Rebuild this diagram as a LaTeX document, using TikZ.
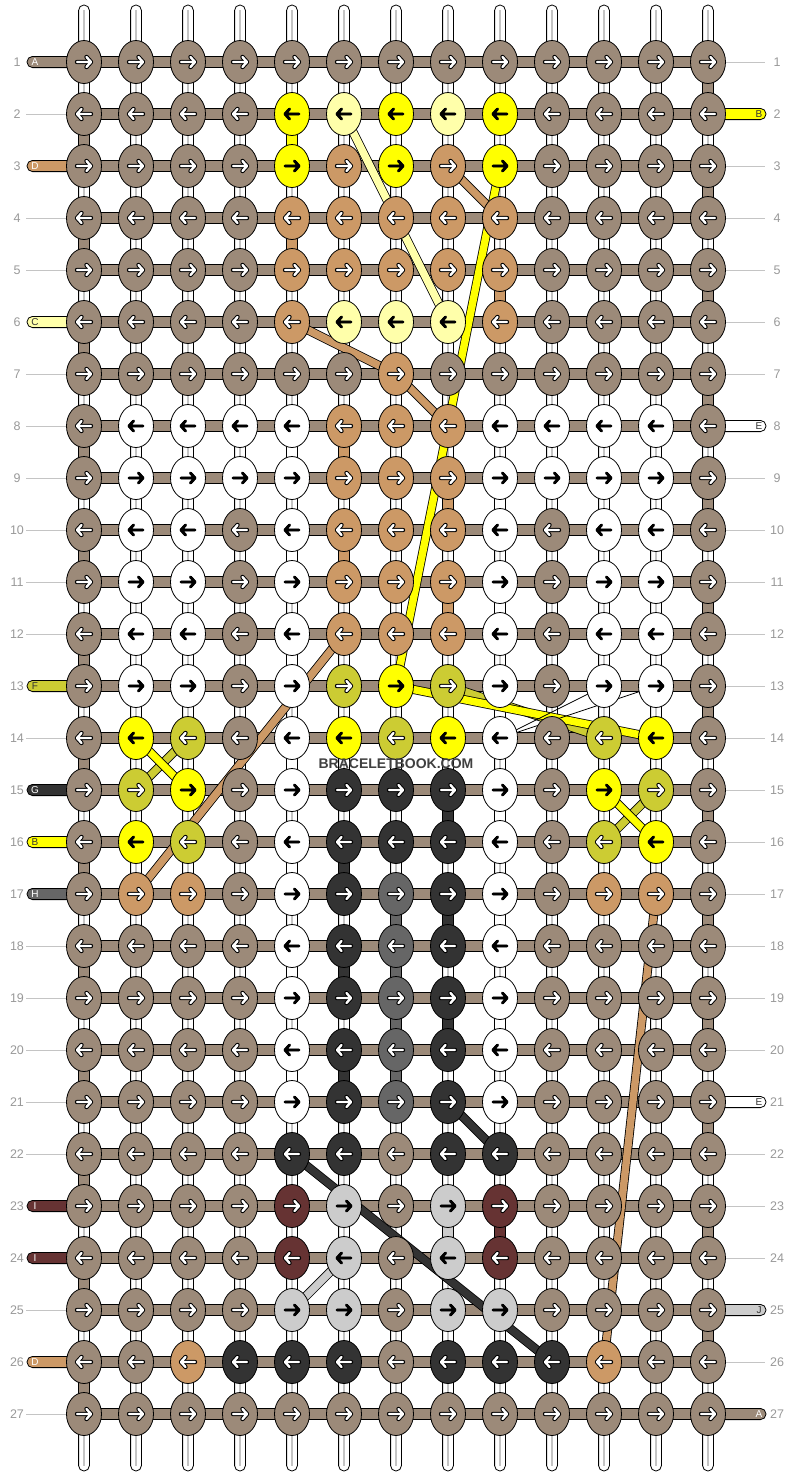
\documentclass[tikz,border=0pt]{standalone}
\usepackage{fontspec}
\setmainfont{Liberation Sans}
\usetikzlibrary{shapes.geometric,calc}
\pgfdeclarelayer{bg}
\pgfdeclarelayer{strs}
\pgfdeclarelayer{bars}
\pgfdeclarelayer{lns}
\pgfsetlayers{bg,strs,bars,lns,main}
\definecolor{cA}{HTML}{9C8A79}
\definecolor{cB}{HTML}{FFFF00}
\definecolor{cC}{HTML}{FFFFAA}
\definecolor{cD}{HTML}{CC9966}
\definecolor{cE}{HTML}{FFFFFF}
\definecolor{cF}{HTML}{CCCC33}
\definecolor{cG}{HTML}{333333}
\definecolor{cH}{HTML}{666666}
\definecolor{cI}{HTML}{663333}
\definecolor{cJ}{HTML}{CCCCCC}
\definecolor{numgray}{HTML}{999999}
\definecolor{guide}{HTML}{C4C4C4}
\definecolor{wmark}{HTML}{404040}
\definecolor{darktxt}{HTML}{333333}
% arrow inner colours and outer widths
\colorlet{iA}{white}\def\owA{4.4}
\colorlet{iB}{black}\def\owB{2.9}
\colorlet{iC}{black}\def\owC{2.9}
\colorlet{iD}{white}\def\owD{4.4}
\colorlet{iE}{black}\def\owE{2.9}
\colorlet{iF}{white}\def\owF{4.4}
\colorlet{iG}{white}\def\owG{4.4}
\colorlet{iH}{white}\def\owH{4.4}
\colorlet{iI}{white}\def\owI{4.4}
\colorlet{iJ}{black}\def\owJ{2.9}
% label text colours
\colorlet{tA}{white}\colorlet{tB}{darktxt}\colorlet{tC}{darktxt}
\colorlet{tD}{white}\colorlet{tE}{darktxt}\colorlet{tF}{darktxt}
\colorlet{tG}{white}\colorlet{tH}{white}\colorlet{tI}{white}
\colorlet{tJ}{darktxt}
\begin{document}
\begin{tikzpicture}[x=1pt,y=-1pt,
  knot/.style={ellipse,draw=black,line width=0.8pt,minimum width=35pt,minimum height=43pt,inner sep=0pt},
  arw/.style={black,line cap=round,line join=round},
  strand/.style={draw=black,line width=0.8pt,double=#1,double distance=7.4pt},
  thinstrand/.style={draw=black,line width=0.8pt},
  numlab/.style={text=numgray,font=\fontsize{12.5}{14}\selectfont,inner sep=0pt},
  stublab/.style={font=\fontsize{10}{11}\selectfont,inner sep=0pt},
  guideline/.style={guide,line width=1pt},
  seg/.style={draw=black,line width=0.8pt}]
\useasboundingbox (0,0) rectangle (792,1476);
\begin{pgfonlayer}{bg}
\fill[white] (0,0) rectangle (792,1476);
\end{pgfonlayer}

% ---------- knots ----------
\foreach \rw/\cols in {
 1/{A,A,A,A,A,A,A,A,A,A,A,A,A},
 2/{A,A,A,A,B,C,B,C,B,A,A,A,A},
 3/{A,A,A,A,B,D,B,D,B,A,A,A,A},
 4/{A,A,A,A,D,D,D,D,D,A,A,A,A},
 5/{A,A,A,A,D,D,D,D,D,A,A,A,A},
 6/{A,A,A,A,D,C,C,C,D,A,A,A,A},
 7/{A,A,A,A,A,A,D,A,A,A,A,A,A},
 8/{A,E,E,E,E,D,D,D,E,E,E,E,A},
 9/{A,E,E,E,E,D,D,D,E,E,E,E,A},
 10/{A,E,E,A,E,D,D,D,E,A,E,E,A},
 11/{A,E,E,A,E,D,D,D,E,A,E,E,A},
 12/{A,E,E,A,E,D,D,D,E,A,E,E,A},
 13/{A,E,E,A,E,F,B,F,E,A,E,E,A},
 14/{A,B,F,A,E,B,F,B,E,A,F,B,A},
 15/{A,F,B,A,E,G,G,G,E,A,B,F,A},
 16/{A,B,F,A,E,G,G,G,E,A,F,B,A},
 17/{A,D,D,A,E,G,H,G,E,A,D,D,A},
 18/{A,A,A,A,E,G,H,G,E,A,A,A,A},
 19/{A,A,A,A,E,G,H,G,E,A,A,A,A},
 20/{A,A,A,A,E,G,H,G,E,A,A,A,A},
 21/{A,A,A,A,E,G,H,G,E,A,A,A,A},
 22/{A,A,A,A,G,G,A,G,G,A,A,A,A},
 23/{A,A,A,A,I,J,A,J,I,A,A,A,A},
 24/{A,A,A,A,I,J,A,J,I,A,A,A,A},
 25/{A,A,A,A,J,J,A,J,J,A,A,A,A},
 26/{A,A,D,G,G,G,A,G,G,G,D,A,A},
 27/{A,A,A,A,A,A,A,A,A,A,A,A,A}}{
  \foreach \kc [count=\cc] in \cols {
    \pgfmathsetmacro\xx{84+52*(\cc-1)}
    \pgfmathsetmacro\yy{62+52*(\rw-1)}
    \pgfmathsetmacro\sx{ifthenelse(mod(\rw,2)==1,1,-1)}
    \edef\aw{\csname ow\kc\endcsname}
    \node[knot,fill=c\kc] (n-\rw-\cc) at (\xx,\yy) {};
    \begin{scope}[shift={(\xx,\yy)},xscale=\sx]
      \draw[arw,line width=\aw pt] (-7,0)--(7,0) (2.5,-5)--(7,0)--(2.5,5);
      \draw[arw,color=i\kc,line width=2.4pt] (-7,0)--(7,0) (2.5,-5)--(7,0)--(2.5,5);
    \end{scope}
  }
}

% ---------- vertical strings ----------
\begin{pgfonlayer}{strs}
\foreach \cc in {1,...,13}{
  \draw[fill=white,draw=black,line width=0.8pt,rounded corners=5.3pt]
    ($(n-1-\cc.center)+(-5.4,-57)$) rectangle ($(n-27-\cc.center)+(5.4,57)$);
  \draw[guide,line width=1.3pt] ($(n-1-\cc.center)+(0,-52)$) -- ($(n-27-\cc.center)+(0,52)$);
}
\end{pgfonlayer}

% ---------- horizontal bars, stubs, guides ----------
\begin{pgfonlayer}{bars}
\foreach \rw in {1,...,27}{
  \draw[seg,fill=cA] ($(n-\rw-1.center)+(0,-5.6)$) rectangle ($(n-\rw-13.center)+(0,5.6)$);
}
\foreach \rw/\kc in {1/A,3/D,6/C,13/F,15/G,16/B,17/H,23/I,24/I,26/D}{
  \draw[seg,fill=c\kc,rounded corners=5.5pt] ($(n-\rw-1.center)+(-57,-5.6)$) rectangle ($(n-\rw-1.center)+(8,5.6)$);
}
\foreach \rw/\kc in {2/B,8/E,21/E,25/J,27/A}{
  \draw[seg,fill=c\kc,rounded corners=5.5pt] ($(n-\rw-13.center)+(-8,-5.6)$) rectangle ($(n-\rw-13.center)+(58,5.6)$);
}
\foreach \rw in {2,4,5,7,8,9,10,11,12,14,18,19,20,21,22,25,27}{
  \draw[guideline] ($(n-\rw-1.center)+(-58,0)$) -- (n-\rw-1.center);
}
\foreach \rw in {1,3,4,5,6,7,9,10,11,12,13,14,15,16,17,18,19,20,22,23,24,26}{
  \draw[guideline] (n-\rw-13.center) -- ($(n-\rw-13.center)+(57,0)$);
}
% coloured vertical segments (row r to r+1)
\foreach \rw in {2,4,...,26}{
  \pgfmathtruncatemacro\rn{\rw+1}
  \draw[seg,fill=cA] ($(n-\rw-1.center)+(-5.4,0)$) rectangle ($(n-\rn-1.center)+(5.4,0)$);
}
\foreach \rw in {1,3,...,25}{
  \pgfmathtruncatemacro\rn{\rw+1}
  \draw[seg,fill=cA] ($(n-\rw-13.center)+(-5.4,0)$) rectangle ($(n-\rn-13.center)+(5.4,0)$);
}
\foreach \cc/\rw/\kc in {5/2/B,5/4/D,9/5/D,6/8/D,8/9/D,6/10/D,8/11/D,
  6/16/G,6/18/G,6/20/G,8/15/G,8/17/G,8/19/G,
  7/17/H,7/18/H,7/19/H,7/20/H,9/23/I,8/23/J,
  5/8/E,5/10/E,5/12/E,5/14/E,5/16/E,5/18/E,5/20/E,
  9/9/E,9/11/E,9/13/E,9/15/E,9/17/E,9/19/E}{
  \pgfmathtruncatemacro\rn{\rw+1}
  \draw[seg,fill=c\kc] ($(n-\rw-\cc.center)+(-5.4,0)$) rectangle ($(n-\rn-\cc.center)+(5.4,0)$);
}
\end{pgfonlayer}

% ---------- carried strands ----------
\begin{pgfonlayer}{lns}
\draw[strand=cC] (n-2-6.center) -- (n-6-8.center);
\draw[strand=cD] (n-3-8.center) -- (n-4-9.center);
\draw[strand=cB] (n-3-9.center) -- (n-13-7.center);
\draw[strand=cD] (n-6-5.center) -- (n-7-7.center) -- (n-8-8.center);
\draw[strand=cD] (n-12-6.center) -- (n-17-2.center);
\draw[strand=cF] (n-14-3.center) -- (n-15-2.center);
\draw[strand=cB] (n-14-2.center) -- (n-15-3.center);
\draw[strand=cF] (n-15-12.center) -- (n-16-11.center);
\draw[strand=cB] (n-15-11.center) -- (n-16-12.center);
\draw[strand=cF] (n-13-8.center) -- (n-14-11.center);
\draw[strand=cB] (n-13-7.center) -- (n-14-12.center);
\draw[thinstrand] (n-13-11.center) -- (n-14-9.center);
\draw[thinstrand] (n-13-12.center) -- (n-14-9.center);
\draw[strand=cG] (n-21-8.center) -- (n-22-9.center);
\draw[strand=cG] (n-22-5.center) -- (n-26-10.center);
\draw[strand=cJ] (n-24-6.center) -- (n-25-5.center);
\draw[strand=cD] (n-17-12.center) -- (n-26-11.center);
\end{pgfonlayer}

% ---------- labels ----------
\foreach \rw/\kc in {1/A,3/D,6/C,13/F,15/G,16/B,17/H,23/I,24/I,26/D}{
  \node[stublab,text=t\kc] (ll-\rw) at ($(n-\rw-1.center)+(-49,0.5)$) {\kc};
}
\foreach \rw/\kc in {2/B,8/E,21/E,25/J,27/A}{
  \node[stublab,text=t\kc] (rl-\rw) at ($(n-\rw-13.center)+(51,0.5)$) {\kc};
}
\foreach \rw in {1,...,27}{
  \node[numlab] (nl-\rw) at ($(n-\rw-1.center)+(-67,0)$) {\rw};
  \node[numlab] (nr-\rw) at ($(n-\rw-13.center)+(69,0)$) {\rw};
}
\node[text=wmark,font=\bfseries\fontsize{14}{16}\selectfont,inner sep=0pt] (wm) at (396,764) {BRACELETBOOK.COM};
\end{tikzpicture}
\end{document}
